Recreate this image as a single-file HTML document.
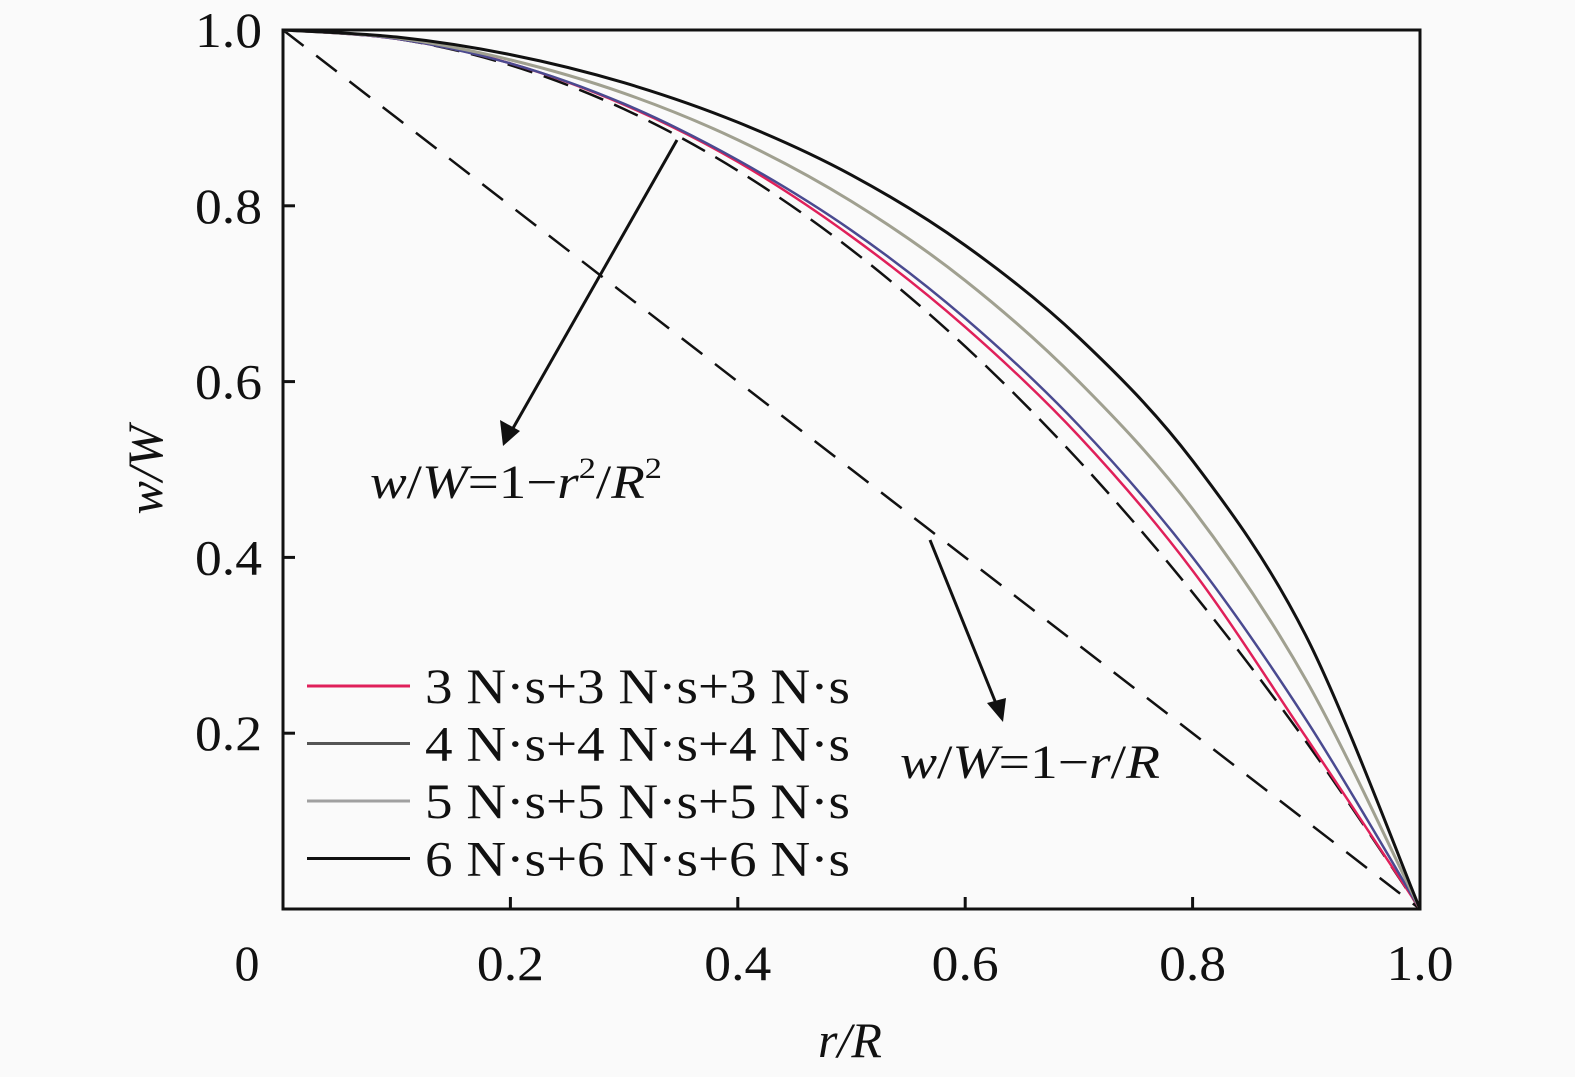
<!DOCTYPE html>
<html><head><meta charset="utf-8">
<style>
html,body{margin:0;padding:0;background:#fafafa;}
svg{display:block;}
text{font-family:"Liberation Serif","Times New Roman",serif;fill:#111;}
</style></head>
<body>
<svg id="chart" width="1575" height="1077" viewBox="0 0 1575 1077">
<rect x="0" y="0" width="1575" height="1077" fill="#fafafa"/>
<g id="marks"></g>
<rect x="283" y="30" width="1137" height="879" fill="none" stroke="#111" stroke-width="3"/>
<g id="ticks"></g>
<text x="850" y="1057" font-family="Liberation Serif, serif" font-size="50" font-style="italic" text-anchor="middle">r/R</text>
<text transform="translate(162,470) rotate(-90)" font-family="Liberation Serif, serif" font-size="50" font-style="italic" text-anchor="middle">w/W</text>
<g>
<line x1="677" y1="140" x2="512" y2="430" stroke="#111" stroke-width="3"/>
<polygon points="503,446 500,420 520,431" fill="#111"/>
<text x="370" y="498" font-family="Liberation Serif, serif" font-size="48" textLength="292" lengthAdjust="spacingAndGlyphs"><tspan font-style="italic">w</tspan>/<tspan font-style="italic">W</tspan>=1−<tspan font-style="italic">r</tspan><tspan font-size="30" dy="-20">2</tspan><tspan dy="20">/</tspan><tspan font-style="italic">R</tspan><tspan font-size="30" dy="-20">2</tspan></text>
</g>
<g>
<line x1="930" y1="540" x2="997" y2="706" stroke="#111" stroke-width="3"/>
<polygon points="1003,722 987,703 1006,698" fill="#111"/>
<text x="900" y="778" font-family="Liberation Serif, serif" font-size="48" textLength="260" lengthAdjust="spacingAndGlyphs"><tspan font-style="italic">w</tspan>/<tspan font-style="italic">W</tspan>=1−<tspan font-style="italic">r</tspan>/<tspan font-style="italic">R</tspan></text>
</g>
<g id="legend"></g>
</svg>
<script>
const rVals=[0,0.1,0.2,0.3,0.4,0.5,0.6,0.7,0.8,0.9,1.0];
const s3=[1,0.99,0.962,0.915,0.85,0.765,0.662,0.538,0.385,0.195,0];
const s4=[1,0.99,0.962,0.916,0.852,0.772,0.672,0.55,0.40,0.215,0];
const s5=[1,0.991,0.966,0.928,0.875,0.805,0.715,0.60,0.455,0.26,0];
const s6=[1,0.992,0.972,0.94,0.895,0.835,0.755,0.65,0.51,0.31,0];
const parab=[1,0.99,0.96,0.91,0.84,0.75,0.64,0.51,0.36,0.19,0];
const linear=[1,0.9,0.8,0.7,0.6,0.5,0.4,0.3,0.2,0.1,0];
const xTicks=[0.2,0.4,0.6,0.8,1.0];
const xTickLabels=["0.2","0.4","0.6","0.8","1.0"];
const yTicks=[0.2,0.4,0.6,0.8,1.0];
const yTickLabels=["0.2","0.4","0.6","0.8","1.0"];
const legendLabels=["3 N·s+3 N·s+3 N·s","4 N·s+4 N·s+4 N·s","5 N·s+5 N·s+5 N·s","6 N·s+6 N·s+6 N·s"];

const NS="http://www.w3.org/2000/svg";
const FONT="Liberation Serif, serif";
const X=v=>283+v*1137, Y=v=>909-v*879;
function path(xs,ys){
  const p=xs.map((x,i)=>[X(x),Y(ys[i])]);
  let d="M"+p[0][0]+","+p[0][1];
  for(let i=0;i<p.length-1;i++){
    const p0=p[Math.max(0,i-1)],p1=p[i],p2=p[i+1],p3=p[Math.min(p.length-1,i+2)];
    const c1=[p1[0]+(p2[0]-p0[0])/6,p1[1]+(p2[1]-p0[1])/6];
    const c2=[p2[0]-(p3[0]-p1[0])/6,p2[1]-(p3[1]-p1[1])/6];
    d+=` C${c1[0]},${c1[1]} ${c2[0]},${c2[1]} ${p2[0]},${p2[1]}`;
  }
  return d;
}
const marks=document.getElementById('marks');
function addLine(ys,color,w,dash,name){
  const e=document.createElementNS(NS,'path');
  e.setAttribute('d',path(rVals,ys));
  e.setAttribute('fill','none');e.setAttribute('stroke',color);e.setAttribute('stroke-width',w);
  if(dash)e.setAttribute('stroke-dasharray',dash);
  
  
  marks.appendChild(e);
}
addLine(linear,'#111',2.5,'26,16','linear-reference-line');
addLine(parab,'#111',2.5,'26,12','parabola-reference-line');
addLine(s3,'#e0205a',2.5,null,'series-3ns');
addLine(s4,'#4a4a90',2.5,null,'series-4ns');
addLine(s5,'#a0a090',3,null,'series-5ns');
addLine(s6,'#111',3,null,'series-6ns');

const ticks=document.getElementById('ticks');
xTicks.forEach((v,i)=>{
  const l=document.createElementNS(NS,'line');
  l.setAttribute('x1',X(v));l.setAttribute('x2',X(v));l.setAttribute('y1',909);l.setAttribute('y2',897);
  l.setAttribute('stroke','#111');l.setAttribute('stroke-width',3);
  
  
  ticks.appendChild(l);
  const t=document.createElementNS(NS,'text');
  t.setAttribute('x',X(v));t.setAttribute('y',980);t.setAttribute('font-size',50);t.setAttribute('text-anchor','middle');
  t.setAttribute('font-family',FONT);
  t.setAttribute('textLength',67);t.setAttribute('lengthAdjust','spacingAndGlyphs');
  t.textContent=xTickLabels[i];
  
  
  ticks.appendChild(t);
});
yTicks.forEach((v,i)=>{
  const l=document.createElementNS(NS,'line');
  l.setAttribute('x1',283);l.setAttribute('x2',295);l.setAttribute('y1',Y(v));l.setAttribute('y2',Y(v));
  l.setAttribute('stroke','#111');l.setAttribute('stroke-width',3);
  
  
  ticks.appendChild(l);
  const t=document.createElementNS(NS,'text');
  t.setAttribute('x',262);t.setAttribute('y',Y(v)+17);t.setAttribute('font-size',50);t.setAttribute('text-anchor','end');
  t.setAttribute('font-family',FONT);
  t.setAttribute('textLength',67);t.setAttribute('lengthAdjust','spacingAndGlyphs');
  t.textContent=yTickLabels[i];
  
  
  ticks.appendChild(t);
});
const t0=document.createElementNS(NS,'text');
t0.setAttribute('x',247);t0.setAttribute('y',980);t0.setAttribute('font-size',50);t0.setAttribute('text-anchor','middle');
t0.setAttribute('font-family',FONT);
t0.textContent="0";


ticks.appendChild(t0);

const legend=document.getElementById('legend');
const legColors=['#e0205a','#555','#a0a0a0','#111'];
legendLabels.forEach((lab,i)=>{
  const y=686+i*57.5;
  const l=document.createElementNS(NS,'line');
  l.setAttribute('x1',307);l.setAttribute('x2',410);l.setAttribute('y1',y);l.setAttribute('y2',y);
  l.setAttribute('stroke',legColors[i]);l.setAttribute('stroke-width',3);
  
  
  legend.appendChild(l);
  const t=document.createElementNS(NS,'text');
  t.setAttribute('x',425);t.setAttribute('y',y+17);t.setAttribute('font-size',50);
  t.setAttribute('font-family',FONT);
  t.setAttribute('textLength',425);t.setAttribute('lengthAdjust','spacingAndGlyphs');
  t.textContent=lab;
  
  
  legend.appendChild(t);
});
</script>
</body></html>
